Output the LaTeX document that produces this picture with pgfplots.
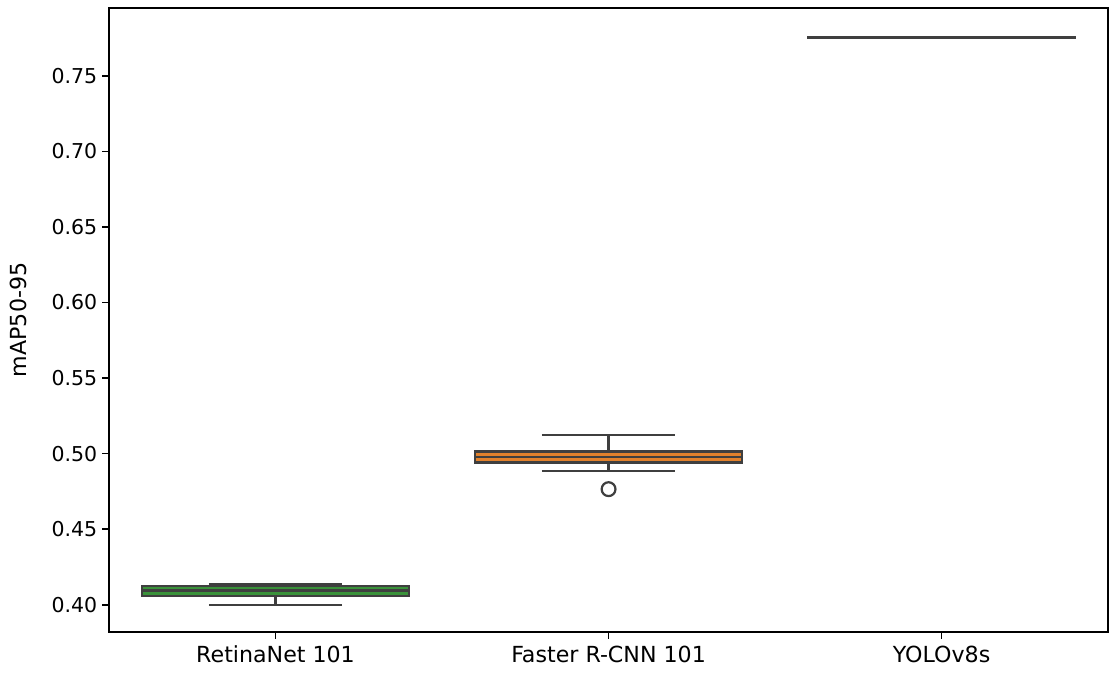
\documentclass[border=0pt]{standalone}
\usepackage{fontspec}
\setmainfont{DejaVu Sans}
\usepackage{pgfplots}
\pgfplotsset{compat=1.18}
\usepgfplotslibrary{statistics}
\definecolor{bline}{HTML}{3F3F3F}
\definecolor{sgreen}{HTML}{3A923A}
\definecolor{sorange}{HTML}{E1812C}
\definecolor{sblue}{HTML}{3274A1}
\begin{document}
\begin{tikzpicture}
\useasboundingbox (0,0) rectangle (802.9pt,487.8pt);
\begin{axis}[
  at={(78.8pt,31.1pt)}, anchor=south west,
  scale only axis, width=722pt, height=451pt,
  xmin=-0.5, xmax=2.5, ymin=0.382, ymax=0.795,
  xtick={0,1,2},
  xticklabels={RetinaNet 101, Faster R-CNN 101, YOLOv8s},
  ytick={0.40,0.45,0.50,0.55,0.60,0.65,0.70,0.75},
  yticklabel style={font=\fontsize{14.8}{17}\selectfont, /pgf/number format/.cd, fixed, fixed zerofill, precision=2},
  /pgf/number format/assume math mode=true,
  xticklabel style={font=\fontsize{16}{18}\selectfont, yshift=-1.5pt},
  ylabel style={font=\fontsize{16}{18}\selectfont},
  ylabel={mAP50-95},
  ylabel shift=11pt,
  tick align=outside, xtick pos=bottom, ytick pos=left,
  major tick length=5pt,
  axis line style={line width=1.1pt},
  every tick/.style={black, line width=1.1pt},
  boxplot/draw direction=y,
  boxplot/box extend=0.8,
  boxplot/whisker extend=0.4,
]
\addplot[draw=bline, line width=1.6pt, fill=sgreen,
  boxplot prepared={draw position=0, median=0.4095, lower quartile=0.4060, upper quartile=0.4126, lower whisker=0.3998, upper whisker=0.4134}]
  coordinates {};
\addplot[draw=bline, line width=1.6pt, fill=sorange, mark=o, mark size=5pt, mark options={draw=bline, fill=white, solid, line width=1.6pt},
  boxplot prepared={draw position=1, median=0.4977, lower quartile=0.4941, upper quartile=0.5014, lower whisker=0.4886, upper whisker=0.5124}]
  coordinates {(1,0.4765)};
\addplot[draw=bline, line width=1.6pt, fill=sblue,
  boxplot prepared={draw position=2, median=0.7753, lower quartile=0.7752, upper quartile=0.7754, lower whisker=0.7752, upper whisker=0.7754}]
  coordinates {};
\end{axis}
\end{tikzpicture}
\end{document}
